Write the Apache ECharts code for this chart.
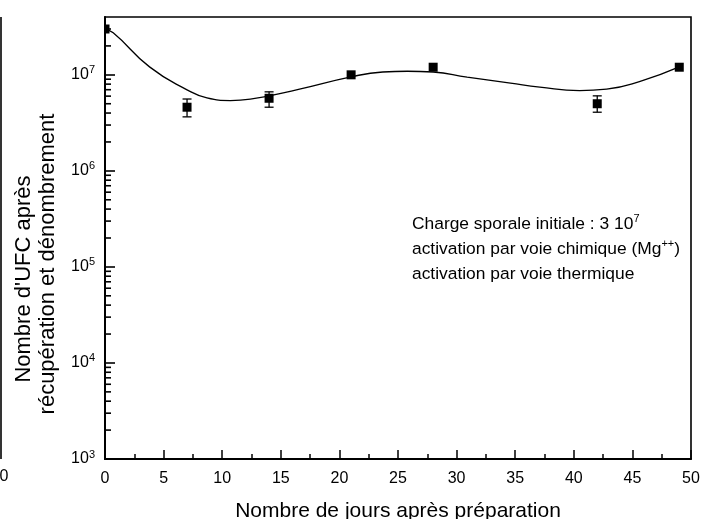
<!DOCTYPE html>
<html><head><meta charset="utf-8">
<script src="https://cdn.jsdelivr.net/npm/echarts@6/dist/echarts.min.js"></script>
<style>html,body{margin:0;padding:0;background:#fff}#c{width:702px;height:519px}</style>
</head><body><div id="c"></div>
<script>
// Measured points (days, UFC)
const pointDays = [0, 7, 14, 21, 28, 42, 49];
const pointUFC = [3.0e7, 4.6e6, 5.7e6, 1.0e7, 1.2e7, 5.0e6, 1.2e7];
// Error bars (days, low, high)
const errDays = [7, 14, 42];
const errLow = [3.65e6, 4.6e6, 4.08e6];
const errHigh = [5.6e6, 6.65e6, 6.04e6];
// Fitted curve
const curveDays = [0, 0.7, 3.8, 7.0, 8.7, 10.7, 12.4, 16.6, 20.9, 23.7, 25.8, 28.0, 30.9, 34.6, 37.1, 40.5, 42.8, 45.6, 49.0];
const curveUFC = [2.94e7, 2.74e7, 1.21e7, 6.98e6, 5.75e6, 5.4e6, 5.58e6, 7.1e6, 9.46e6, 1.07e7, 1.09e7, 1.07e7, 9.46e6, 8.2e6, 7.45e6, 6.86e6, 7.1e6, 8.5e6, 1.21e7];
// Axis ranges
const xMin = 0, xMax = 50, xInterval = 5;
const yMin = 1e3, yMax = 4e7;
// Log-axis minor tick positions (2..9 x 10^n)
const yMinorTicks = [];
for (let e = 3; e <= 7; e++) for (let m = 2; m <= 9; m++) { const v = m * Math.pow(10, e); if (v < yMax) yMinorTicks.push(v); }

const FONT = '"Liberation Sans", Arial, sans-serif';
const chart = echarts.init(document.getElementById('c'));
chart.setOption({
  animation: false,
  backgroundColor: '#fff',
  grid: { left: 105, right: 11, top: 17, bottom: 60, show: true, borderColor: '#000', borderWidth: 1.6, backgroundColor: 'transparent', containLabel: false, outerBoundsMode: 'none' },
  xAxis: {
    type: 'value', min: xMin, max: xMax, interval: xInterval,
    axisLine: { show: true, lineStyle: { color: '#000', width: 2 } },
    axisTick: { show: true, inside: true, length: 9, lineStyle: { color: '#000', width: 1.5 } },
    minorTick: { show: true, splitNumber: 2, length: 5, lineStyle: { color: '#000', width: 1.5 } },
    splitLine: { show: false },
    minorSplitLine: { show: false },
    axisLabel: { show: true, color: '#000', fontSize: 16, fontFamily: FONT, margin: 12 },
    name: 'Nombre de jours après préparation', nameLocation: 'middle', nameGap: 42,
    nameTextStyle: { color: '#000', fontSize: 21, fontFamily: FONT }
  },
  yAxis: {
    type: 'log', min: yMin, max: yMax, logBase: 10,
    axisLine: { show: true, lineStyle: { color: '#000', width: 2 } },
    axisTick: { show: true, inside: true, length: 10, lineStyle: { color: '#000', width: 1.6 } },
    splitLine: { show: false },
    axisLabel: {
      show: true, color: '#000', fontFamily: FONT, margin: 10, showMaxLabel: false,
      formatter: function (v) {
        const l = Math.log10(v), e = Math.round(l);
        if (Math.abs(l - e) > 1e-6) return '';
        return '{b|10}{s|' + e + '}';
      },
      rich: {
        b: { fontSize: 16, fontFamily: FONT, color: '#000', lineHeight: 20 },
        s: { fontSize: 11, fontFamily: FONT, color: '#000', padding: [0, 0, 9, 0] }
      }
    }
  },
  series: [
    {
      type: 'custom', name: 'minorY', z: 10, silent: true,
      encode: { x: 0, y: 1 },
      data: yMinorTicks.map(v => [xMin, v]),
      renderItem: function (params, api) {
        const p = api.coord([api.value(0), api.value(1)]);
        return { type: 'group', children: [
          { type: 'line', shape: { x1: p[0], y1: p[1], x2: p[0] + 6, y2: p[1] }, style: { stroke: '#000', lineWidth: 1.6 } }
        ] };
      }
    },
    {
      type: 'line', name: 'fit', smooth: 0.5, symbol: 'none', z: 2,
      data: curveDays.map((d, i) => [d, curveUFC[i]]),
      lineStyle: { color: '#000', width: 1.3 }
    },
    {
      type: 'custom', name: 'errors', z: 4,
      data: errDays.map((d, i) => [d, errLow[i], errHigh[i]]),
      renderItem: function (params, api) {
        const lo = api.coord([api.value(0), api.value(1)]);
        const hi = api.coord([api.value(0), api.value(2)]);
        const w = 4.5;
        return { type: 'group', children: [
          { type: 'line', shape: { x1: lo[0], y1: lo[1], x2: hi[0], y2: hi[1] }, style: { stroke: '#000', lineWidth: 1.3 } },
          { type: 'line', shape: { x1: lo[0] - w, y1: lo[1], x2: lo[0] + w, y2: lo[1] }, style: { stroke: '#000', lineWidth: 1.3 } },
          { type: 'line', shape: { x1: hi[0] - w, y1: hi[1], x2: hi[0] + w, y2: hi[1] }, style: { stroke: '#000', lineWidth: 1.3 } }
        ] };
      }
    },
    {
      type: 'custom', name: 'points', z: 5, clip: true,
      data: pointDays.map((d, i) => [d, pointUFC[i]]),
      renderItem: function (params, api) {
        const p = api.coord([api.value(0), api.value(1)]);
        const s = 9;
        return { type: 'rect', shape: { x: p[0] - s / 2, y: p[1] - s / 2, width: s, height: s }, style: { fill: '#000' } };
      }
    }
  ],
  graphic: [
    { type: 'line', shape: { x1: 1, y1: 17, x2: 1, y2: 459 }, style: { stroke: '#000', lineWidth: 1.6 } },
    { type: 'text', x: 4, y: 477, style: { text: '0', fontSize: 16, fontFamily: FONT, fill: '#000', align: 'center', verticalAlign: 'middle' } },
    { type: 'text', x: 24, y: 279, rotation: Math.PI / 2, style: { text: "Nombre d'UFC après", fontSize: 22, fontFamily: FONT, fill: '#000', align: 'center', verticalAlign: 'middle' } },
    { type: 'text', x: 48, y: 264, rotation: Math.PI / 2, style: { text: 'récupération et dénombrement', fontSize: 22, fontFamily: FONT, fill: '#000', align: 'center', verticalAlign: 'middle' } },
    { type: 'text', x: 412, y: 224, style: { text: 'Charge sporale initiale : 3 10{s|7}', fontSize: 17.4, fontFamily: FONT, fill: '#000', verticalAlign: 'middle',
      rich: { s: { fontSize: 11, fontFamily: FONT, fill: '#000', padding: [0, 0, 10, 0] } } } },
    { type: 'text', x: 412, y: 249, style: { text: 'activation par voie chimique (Mg{s|++})', fontSize: 17.4, fontFamily: FONT, fill: '#000', verticalAlign: 'middle',
      rich: { s: { fontSize: 11, fontFamily: FONT, fill: '#000', padding: [0, 0, 10, 0] } } } },
    { type: 'text', x: 412, y: 274, style: { text: 'activation par voie thermique', fontSize: 17.4, fontFamily: FONT, fill: '#000', verticalAlign: 'middle' } }
  ]
});
</script></body></html>
